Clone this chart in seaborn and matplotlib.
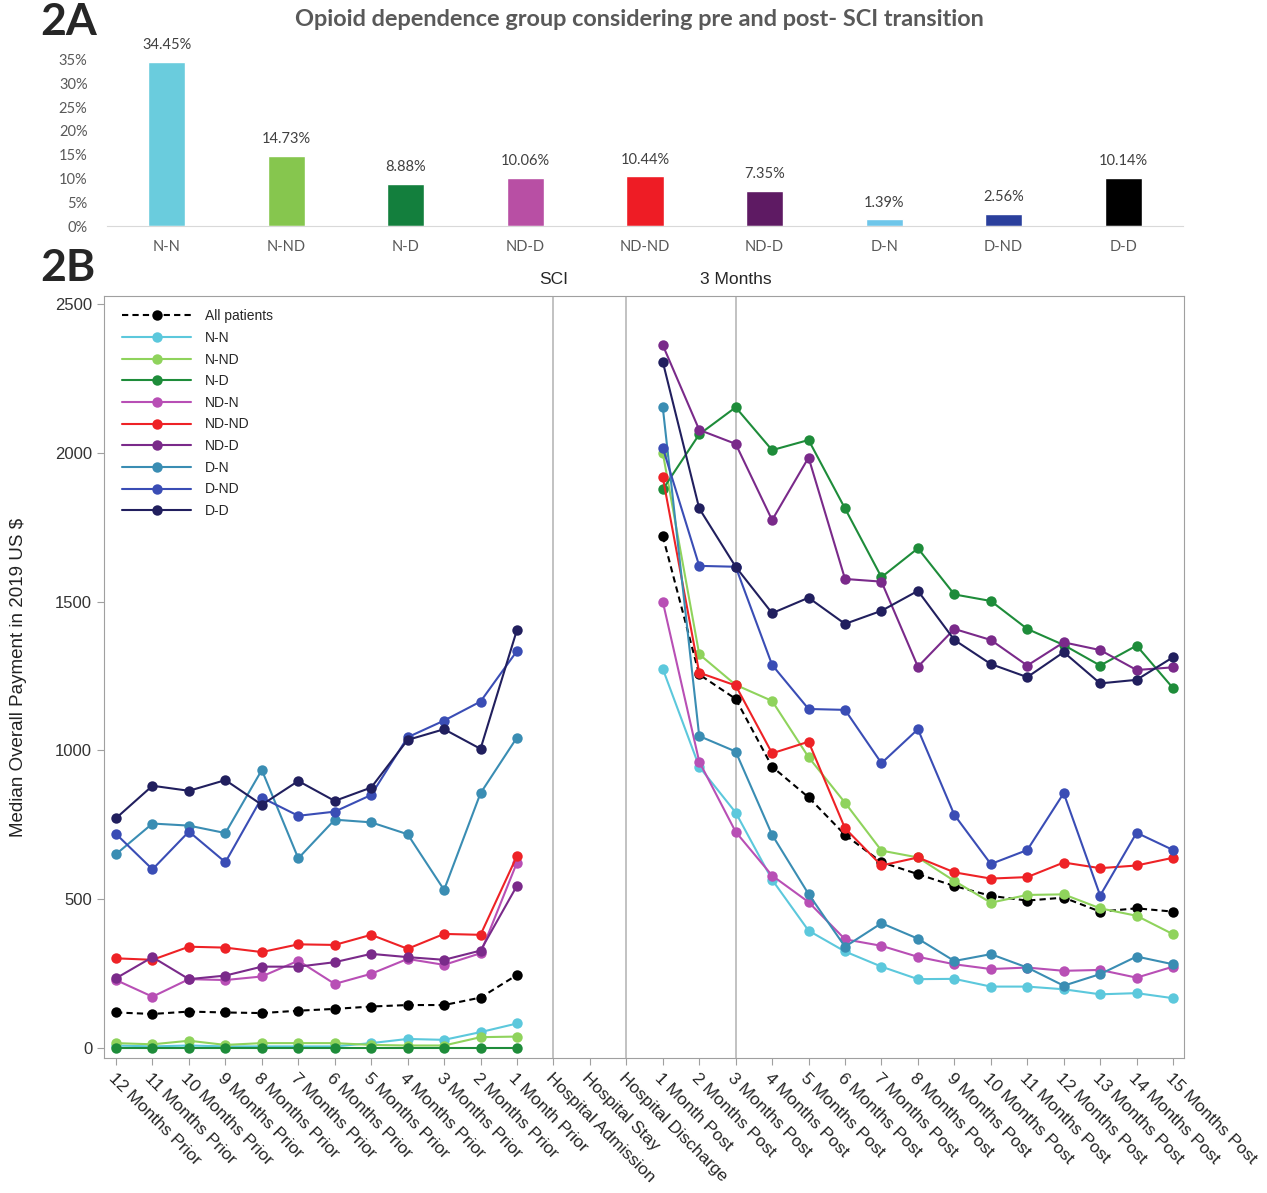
import matplotlib
matplotlib.use('Agg')
import matplotlib.pyplot as plt
import pandas as pd
import seaborn as sns

sns.set_style('white')
plt.rcParams['font.family'] = ['Liberation Sans', 'DejaVu Sans']

# ---- 2A data ----
bar_labels = ['N-N', 'N-ND', 'N-D', 'ND-D', 'ND-ND', 'ND-D', 'D-N', 'D-ND', 'D-D']
bar_values = [34.45, 14.73, 8.88, 10.06, 10.44, 7.35, 1.39, 2.56, 10.14]
bar_colors = ['#6ACCDD', '#86C64E', '#137F3D', '#B84FA4', '#EE1C25',
              '#5E1A63', '#6EC6EA', '#2A3F9C', '#000000']

# ---- 2B data ----
x_labels = ['12 Months Prior', '11 Months Prior', '10 Months Prior', '9 Months Prior',
            '8 Months Prior', '7 Months Prior', '6 Months Prior', '5 Months Prior',
            '4 Months Prior', '3 Months Prior', '2 Months Prior', '1 Month Prior',
            'Hospital Admission', 'Hospital Stay', 'Hospital Discharge',
            '1 Month Post', '2 Months Post', '3 Months Post', '4 Months Post',
            '5 Months Post', '6 Months Post', '7 Months Post', '8 Months Post',
            '9 Months Post', '10 Months Post', '11 Months Post', '12 Months Post',
            '13 Months Post', '14 Months Post', '15 Months Post']

groups = ['All patients', 'N-N', 'N-ND', 'N-D', 'ND-N', 'ND-ND', 'ND-D', 'D-N', 'D-ND', 'D-D']
line_colors = ['#000000', '#5CC8DC', '#8FD35C', '#1E8C3A', '#B84FB5', '#EE2226',
               '#7A2A8A', '#3A8DB3', '#3A4DB5', '#211F5E']

all_pre = [119, 114, 122, 119, 117, 125, 131, 139, 144, 144, 169, 245]
all_post = [1720, 1255, 1173, 945, 842, 716, 624, 584, 544, 511, 495, 505, 458, 469, 458]
nn_pre = [8, 5, 8, 5, 5, 5, 5, 16, 30, 27, 53, 82]
nn_post = [1274, 945, 791, 565, 394, 324, 273, 231, 232, 206, 206, 197, 180, 184, 167]
nnd_pre = [16, 12, 24, 10, 16, 16, 16, 10, 8, 8, 36, 38]
nnd_post = [2000, 1323, 1220, 1166, 977, 824, 663, 640, 561, 488, 514, 516, 469, 444, 382]
nd_pre = [0, 0, 0, 0, 0, 0, 0, 0, 0, 0, 0, 0]
nd_post = [1877, 2062, 2153, 2009, 2043, 1813, 1582, 1679, 1524, 1502, 1408, 1354, 1285, 1352, 1209]
ndn_pre = [228, 172, 231, 228, 240, 293, 215, 249, 299, 279, 318, 623]
ndn_post = [1500, 962, 726, 579, 490, 365, 343, 306, 281, 265, 270, 259, 262, 236, 273]
ndnd_pre = [301, 296, 340, 337, 322, 348, 346, 380, 333, 383, 380, 645]
ndnd_post = [1918, 1261, 1218, 990, 1029, 738, 613, 640, 590, 569, 574, 623, 604, 613, 639]
ndd_pre = [234, 305, 231, 243, 273, 273, 288, 316, 305, 296, 327, 545]
ndd_post = [2362, 2077, 2030, 1774, 1984, 1576, 1567, 1281, 1408, 1371, 1285, 1363, 1337, 1270, 1279]
dn_pre = [651, 754, 747, 722, 934, 637, 767, 758, 718, 531, 856, 1043]
dn_post = [2153, 1048, 996, 716, 517, 340, 419, 367, 292, 315, 270, 209, 248, 307, 281]
dnd_pre = [719, 600, 727, 624, 841, 780, 794, 850, 1044, 1100, 1164, 1334]
dnd_post = [2017, 1620, 1617, 1287, 1139, 1136, 957, 1071, 783, 618, 665, 856, 512, 723, 665]
dd_pre = [772, 881, 864, 900, 817, 897, 830, 875, 1035, 1071, 1005, 1405]
dd_post = [2306, 1813, 1617, 1461, 1513, 1425, 1469, 1536, 1371, 1290, 1246, 1330, 1225, 1237, 1313]

pre_vals = [all_pre, nn_pre, nnd_pre, nd_pre, ndn_pre, ndnd_pre, ndd_pre, dn_pre, dnd_pre, dd_pre]
post_vals = [all_post, nn_post, nnd_post, nd_post, ndn_post, ndnd_post, ndd_post, dn_post, dnd_post, dd_post]

rows = []
for g, pre, post in zip(groups, pre_vals, post_vals):
    for i, v in enumerate(pre):
        rows.append((g, 'pre', i, v))
    for i, v in enumerate(post):
        rows.append((g, 'post', 15 + i, v))
df = pd.DataFrame(rows, columns=['group', 'phase', 'idx', 'value'])

W, H = 1267, 1193
fig = plt.figure(figsize=(W / 100, H / 100), dpi=100)

# ---------------- 2A ----------------
ax1 = fig.add_axes([107 / W, 1 - 226 / H, 1076 / W, 176 / H])
dfb = pd.DataFrame({'pos': [str(i) for i in range(len(bar_values))], 'pct': bar_values})
sns.barplot(data=dfb, x='pos', y='pct', hue='pos', palette=dict(zip(dfb['pos'], bar_colors)),
            legend=False, width=0.31, saturation=1, ax=ax1)
for c in ax1.containers:
    ax1.bar_label(c, fmt='%.2f%%', padding=7, fontsize=10.5, color='#404040', family=['Lato', 'DejaVu Sans'])
ax1.set_xlim(-0.5, 8.5)
ax1.set_ylim(0, 37)
ax1.set_yticks(range(0, 36, 5))
ax1.set_yticklabels([f'{v}%' for v in range(0, 36, 5)], family=['Lato', 'DejaVu Sans'])
ax1.set_xticks(range(len(bar_labels)))
ax1.set_xticklabels(bar_labels, family=['Lato', 'DejaVu Sans'])
ax1.tick_params(axis='y', length=0, pad=14, labelsize=10.5, labelcolor='#595959')
ax1.tick_params(axis='x', length=0, pad=10, labelsize=10.5, labelcolor='#595959')
ax1.set_xlabel('')
ax1.set_ylabel('')
for s in ['top', 'right', 'left']:
    ax1.spines[s].set_visible(False)
ax1.spines['bottom'].set_color('#D9D9D9')
fig.text(0.505, 1 - 20 / H, 'Opioid dependence group considering pre and post- SCI transition',
         ha='center', va='center', fontsize=16.9, weight='bold', color='#595959',
         family=['Lato', 'DejaVu Sans'])
fig.text(40 / W, 1 - 22 / H, '2A', ha='left', va='center', fontsize=32, weight='bold',
         family=['Lato', 'DejaVu Sans'])
fig.text(40 / W, 1 - 268 / H, '2B', ha='left', va='center', fontsize=32, weight='bold',
         family=['Lato', 'DejaVu Sans'])

# ---------------- 2B ----------------
ax2 = fig.add_axes([104 / W, 1 - 1058 / H, 1080 / W, 762 / H])
for xv in [12, 14, 17]:
    ax2.axvline(xv, color='#BDBDBD', lw=1.3, zorder=0)
dash_map = {g: '' for g in groups}
dash_map['All patients'] = (3, 2)
marker_map = {g: 'o' for g in groups}
sns.lineplot(data=df, x='idx', y='value', hue='group', style='group', units='phase',
             estimator=None, hue_order=groups, style_order=groups,
             palette=dict(zip(groups, line_colors)), dashes=dash_map, markers=marker_map,
             markersize=7.5, markeredgewidth=0, linewidth=1.5, ax=ax2)
sns.move_legend(ax2, 'upper left', bbox_to_anchor=(0.005, 0.999), frameon=False, title=None,
                fontsize=10, handlelength=5, labelspacing=0.55, handletextpad=1.0)
for h in ax2.get_legend().legend_handles:
    h.set_markersize(7.5)
    h.set_markeredgewidth(0)

ax2.set_xlim(-0.33, 29.3)
ax2.set_ylim(-34, 2527)
ax2.set_yticks(range(0, 2501, 500))
ax2.set_xticks(range(len(x_labels)))
ax2.set_xticklabels(x_labels, rotation=-45, ha='left', va='top', rotation_mode='anchor')
ax2.tick_params(axis='x', length=5, color='#A0A0A0', labelsize=12.5, pad=4, bottom=True)
ax2.tick_params(axis='y', length=5, color='#A0A0A0', labelsize=12, labelcolor='#333333', left=True)
ax2.set_xlabel('')
ax2.set_ylabel('Median Overall Payment in 2019 US $', fontsize=13.5, color='#222222')
ax2.yaxis.set_label_coords(-0.0713, 0.5)
for s in ax2.spines.values():
    s.set_color('#A0A0A0')
tr = ax2.get_xaxis_transform()
ax2.text(12, 1.021, 'SCI', transform=tr, ha='center', va='center', fontsize=12.5)
ax2.text(17, 1.021, '3 Months', transform=tr, ha='center', va='center', fontsize=12.5)

fig.savefig('out.png', dpi=100)
